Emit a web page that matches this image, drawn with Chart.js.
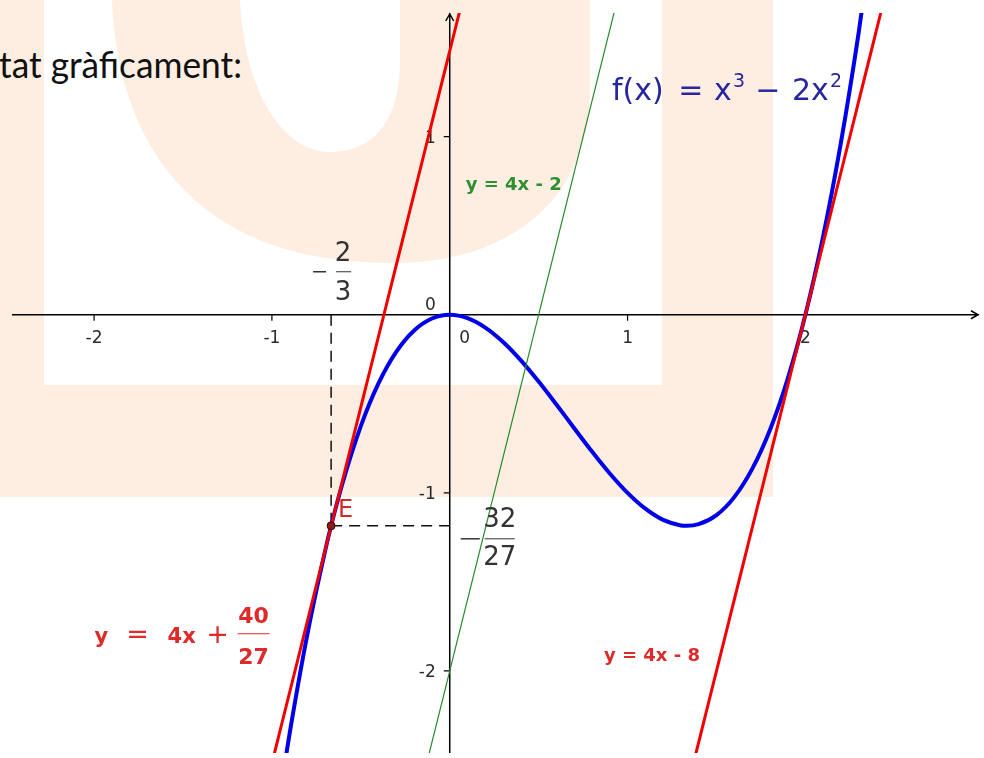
<!DOCTYPE html>
<html>
<head>
<meta charset="utf-8">
<title>f(x) = x^3 - 2x^2</title>
<script src="https://cdn.jsdelivr.net/npm/chart.js@4.4.1/dist/chart.umd.min.js"></script>
<style>
  html, body { margin: 0; padding: 0; background: #fff; overflow: hidden; }
  #wrap { position: relative; width: 984px; height: 758px; }
  #wrap svg, #wrap canvas { position: absolute; left: 0; top: 0; }
</style>
</head>
<body>
<div id="wrap">
  <svg width="984" height="758">
    <g fill="#fdeee1">
      <rect x="0" y="0" width="44" height="497"/>
      <rect x="0" y="385" width="773" height="112"/>
      <rect x="662" y="0" width="111" height="497"/>
      <path d="M112,0 C118,140 190,262 390,263 C520,264 590,190 590,90 L590,0 Z"/>
    </g>
    <path fill="#fff" d="M240,0 C244,90 282,152 330,152 C378,152 400,115 400,60 L400,0 Z"/>
    <text x="-1" y="78" font-family="Lato" font-size="36" fill="#111" textLength="243" lengthAdjust="spacingAndGlyphs">tat gràficament:</text>
  </svg>
  <canvas id="graph" width="984" height="758"></canvas>
</div>
<script>
// visible window of the graph
const xRange = [-2.4615, 2.9762];
const yRange = [-2.4607, 1.6944];
const xTicks = [-2, -1, 1, 2];
const yTicks = [1, -1, -2];

// f(x) = x^3 - 2x^2 (blue)
const curveX = [-0.95, -0.9, -0.8, -0.7, -0.667, -0.6, -0.5, -0.4, -0.3, -0.2, -0.1, 0,
  0.1, 0.2, 0.3, 0.4, 0.5, 0.6, 0.7, 0.8, 0.9, 1.0, 1.1, 1.2, 1.3, 1.333, 1.4, 1.5,
  1.6, 1.7, 1.8, 1.9, 2.0, 2.1, 2.2, 2.3, 2.4];
const curveY = [-2.662, -2.349, -1.792, -1.323, -1.185, -0.936, -0.625, -0.384, -0.207, -0.088, -0.021, 0,
  -0.019, -0.072, -0.153, -0.256, -0.375, -0.504, -0.637, -0.768, -0.891, -1.0, -1.089, -1.152, -1.183, -1.185, -1.176, -1.125,
  -1.024, -0.867, -0.648, -0.361, 0, 0.441, 0.968, 1.587, 2.304];

// tangent at E: y = 4x + 40/27 (red)
const tangentEX = [-1.0, 0.15];
const tangentEY = [-2.519, 2.081];
// tangent at x = 2: y = 4x - 8 (red)
const tangentBX = [1.35, 2.75];
const tangentBY = [-2.6, 3.0];
// y = 4x - 2 (green)
const greenX = [-0.2, 1.0];
const greenY = [-2.8, 2.0];

// point E (-2/3, -32/27)
const pointE = [-0.667, -1.185];

const toPts = (xs, ys) => xs.map((x, i) => ({ x: x, y: ys[i] }));

function txt(ctx, s, x, y, font, color, align) {
  ctx.font = font;
  ctx.fillStyle = color;
  ctx.textAlign = align || 'left';
  ctx.textBaseline = 'alphabetic';
  ctx.fillText(s, x, y);
}

function bar(ctx, x1, x2, y, color, w) {
  ctx.strokeStyle = color;
  ctx.lineWidth = w;
  ctx.beginPath();
  ctx.moveTo(x1, y);
  ctx.lineTo(x2, y);
  ctx.stroke();
}

const axesPlugin = {
  id: 'geoAxes',
  beforeDatasetsDraw(chart) {
    const ctx = chart.ctx, xs = chart.scales.x, ys = chart.scales.y, a = chart.chartArea;
    const ox = xs.getPixelForValue(0), oy = ys.getPixelForValue(0);
    ctx.save();
    ctx.strokeStyle = '#000';
    ctx.lineWidth = 1.5;
    ctx.beginPath();
    ctx.moveTo(a.left, oy); ctx.lineTo(a.right, oy);
    ctx.moveTo(ox, a.top); ctx.lineTo(ox, a.bottom);
    // arrows
    ctx.moveTo(ox - 4, a.top + 8); ctx.lineTo(ox, a.top + 1); ctx.lineTo(ox + 4, a.top + 8);
    ctx.moveTo(a.right - 8, oy - 4); ctx.lineTo(a.right - 1, oy); ctx.lineTo(a.right - 8, oy + 4);
    ctx.stroke();
    ctx.lineWidth = 1.2;
    ctx.beginPath();
    xTicks.forEach(v => {
      const p = xs.getPixelForValue(v);
      ctx.moveTo(p, oy); ctx.lineTo(p, oy + 6);
    });
    yTicks.forEach(v => {
      const p = ys.getPixelForValue(v);
      ctx.moveTo(ox - 6, p); ctx.lineTo(ox, p);
    });
    ctx.stroke();
    const f = "17px 'DejaVu Sans'";
    xTicks.forEach(v => txt(ctx, String(v), xs.getPixelForValue(v), oy + 28, f, '#2a2a2a', 'center'));
    yTicks.forEach(v => txt(ctx, String(v), ox - 14, ys.getPixelForValue(v) + 6, f, '#2a2a2a', 'right'));
    txt(ctx, '0', ox + 15, oy + 28, f, '#2a2a2a', 'center');
    txt(ctx, '0', ox - 14, oy - 5, f, '#2a2a2a', 'right');
    ctx.restore();
  },
  afterDatasetsDraw(chart) {
    const ctx = chart.ctx, xs = chart.scales.x, ys = chart.scales.y;
    const X = v => xs.getPixelForValue(v), Y = v => ys.getPixelForValue(v);
    ctx.save();

    // f(x) = x³ − 2x²
    const fx = X(0.912), fy = Y(1.204), blue = '#26269e';
    const fm = "30px 'DejaVu Sans'", fs = "19px 'DejaVu Sans'";
    txt(ctx, 'f(x)', fx, fy, fm, blue);
    txt(ctx, '=', fx + 79, fy, fm, blue, 'center');
    txt(ctx, 'x', fx + 102, fy, fm, blue);
    txt(ctx, '3', fx + 121, fy - 13, fs, blue);
    txt(ctx, '−', fx + 156, fy, fm, blue, 'center');
    txt(ctx, '2x', fx + 180, fy, fm, blue);
    txt(ctx, '2', fx + 218, fy - 13, fs, blue);

    // y = 4x - 2
    txt(ctx, 'y = 4x - 2', X(0.0895), Y(0.7016), "bold 18px 'DejaVu Sans'", '#2f8f2f');

    // y = 4x - 8
    txt(ctx, 'y = 4x - 8', X(0.867), Y(-1.942), "bold 18px 'DejaVu Sans'", '#dd2a2a');

    // y = 4x + 40/27
    const rx = X(-1.997), ry = Y(-1.8416), red = '#dd2a2a';
    txt(ctx, 'y', rx, ry, "bold 21px 'DejaVu Sans'", red);
    txt(ctx, '=', rx + 43, ry, "27px 'DejaVu Sans'", red, 'center');
    txt(ctx, '4x', rx + 73, ry, "bold 21px 'DejaVu Sans'", red);
    txt(ctx, '+', rx + 123, ry, "27px 'DejaVu Sans'", red, 'center');
    txt(ctx, '40', rx + 159, ry - 20, "bold 22px 'DejaVu Sans'", red, 'center');
    bar(ctx, rx + 143, rx + 175, ry - 9, red, 1);
    txt(ctx, '27', rx + 159, ry + 21, "bold 22px 'DejaVu Sans'", red, 'center');

    // E
    const ex = X(pointE[0]), ey = Y(pointE[1]);
    txt(ctx, 'E', ex + 7, ey - 9, "24px 'DejaVu Sans'", '#d42a2a');

    // -2/3 above the axis
    const ax = X(pointE[0]), ay = Y(0) - 43, gray = '#333';
    bar(ctx, ax - 18, ax - 5, ay, gray, 1.5);
    txt(ctx, '2', ax + 12, ay - 11, "26px 'DejaVu Sans'", gray, 'center');
    bar(ctx, ax + 5, ax + 20, ay, gray, 1);
    txt(ctx, '3', ax + 12, ay + 28, "26px 'DejaVu Sans'", gray, 'center');

    // -32/27 right of the axis
    const bx = X(0), by = Y(pointE[1]) + 13;
    bar(ctx, bx + 11, bx + 30, by, gray, 1.5);
    txt(ctx, '32', bx + 50, by - 12, "26px 'DejaVu Sans'", gray, 'center');
    bar(ctx, bx + 35, bx + 65, by, gray, 1);
    txt(ctx, '27', bx + 50, by + 26, "26px 'DejaVu Sans'", gray, 'center');

    ctx.restore();
  }
};

new Chart(document.getElementById('graph').getContext('2d'), {
  type: 'scatter',
  data: {
    datasets: [
      {
        label: 'E',
        data: [{ x: pointE[0], y: pointE[1] }],
        pointRadius: 4,
        backgroundColor: '#8b1c1c',
        borderColor: '#3a0000',
        borderWidth: 1,
        order: 0
      },
      {
        label: 'y = 4x + 40/27',
        data: toPts(tangentEX, tangentEY),
        showLine: true,
        borderColor: '#f00000',
        borderWidth: 3,
        pointRadius: 0,
        clip: 0,
        order: 1
      },
      {
        label: 'y = 4x - 8',
        data: toPts(tangentBX, tangentBY),
        showLine: true,
        borderColor: '#f00000',
        borderWidth: 3,
        pointRadius: 0,
        clip: 0,
        order: 1
      },
      {
        label: 'y = 4x - 2',
        data: toPts(greenX, greenY),
        showLine: true,
        borderColor: '#2a8a2a',
        borderWidth: 1.2,
        pointRadius: 0,
        clip: 0,
        order: 2
      },
      {
        label: 'f(x)',
        data: toPts(curveX, curveY),
        showLine: true,
        borderColor: '#0000e8',
        borderWidth: 4,
        pointRadius: 0,
        cubicInterpolationMode: 'monotone',
        clip: 0,
        order: 3
      },
      {
        label: 'x = -2/3',
        data: toPts([pointE[0], pointE[0]], [0, pointE[1]]),
        showLine: true,
        borderColor: '#111',
        borderWidth: 1.5,
        borderDash: [11, 7],
        pointRadius: 0,
        order: 4
      },
      {
        label: 'y = -32/27',
        data: toPts([pointE[0], 0], [pointE[1], pointE[1]]),
        showLine: true,
        borderColor: '#111',
        borderWidth: 1.5,
        borderDash: [11, 7],
        pointRadius: 0,
        order: 4
      }
    ]
  },
  options: {
    responsive: false,
    animation: false,
    events: [],
    layout: { padding: { left: 12, top: 13, right: 0, bottom: 0 } },
    scales: {
      x: { type: 'linear', min: xRange[0], max: xRange[1], display: false },
      y: { type: 'linear', min: yRange[0], max: yRange[1], display: false }
    },
    plugins: {
      legend: { display: false },
      tooltip: { enabled: false }
    }
  },
  plugins: [axesPlugin]
});
</script>
</body>
</html>
